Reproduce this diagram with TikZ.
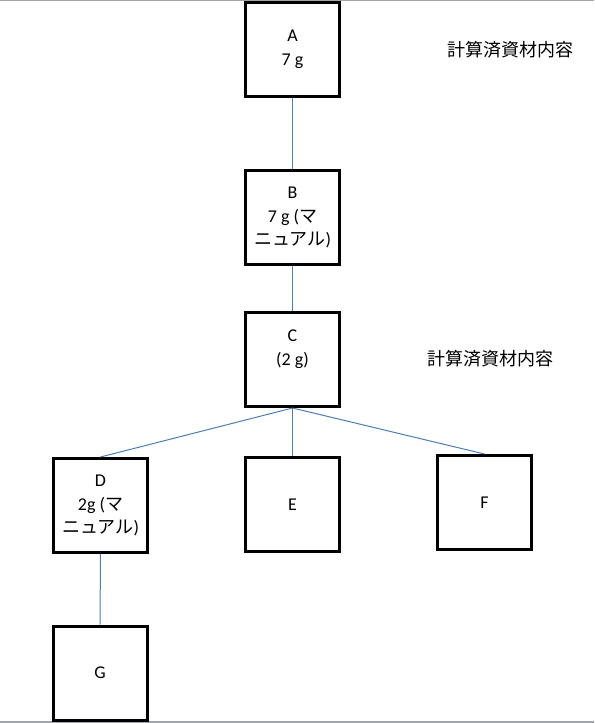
\documentclass[tikz,border=0pt]{standalone}
\usepackage{fontspec}
\setmainfont{Carlito}
\newfontfamily\jp{Noto Sans CJK JP}
\usetikzlibrary{positioning}
\definecolor{linkblue}{RGB}{74,126,187}
\definecolor{framegray}{RGB}{160,166,174}

\begin{document}
\begin{tikzpicture}[
      x=0.75pt,
      y=-0.75pt,
      box/.style={draw, line width=2.25pt, minimum width=70.5pt, minimum height=70.5pt,
        align=center, inner sep=1pt, font=\fontsize{13.5}{17.6}\selectfont},
      link/.style={draw=linkblue, line width=0.75pt},
      note/.style={anchor=west, inner sep=0pt, font=\jp\fontsize{13.5}{16}\selectfont}
    ]
    \useasboundingbox (0,0) rectangle (594,723);
    \draw[framegray, line width=1.2pt] (0,0.5) -- (594,0.5);
    \draw[framegray, line width=1.5pt] (0,722) -- (594,722);

    \node[box] (a) at (292.5,49.5) {A\\7 g};
    \node[box] (b) at (292.5,217.5) {B\\7 g ({\jp マ}\\{\jp ニュアル})};
    \node[box] (c) at (292.5,359.5) {C\\(2 g)\\\mbox{}};
    \node[box] (d) at (100.5,505.5) {D\\2g ({\jp マ}\\{\jp ニュアル})};
    \node[box] (e) at (292.5,504.5) {E};
    \node[box] (f) at (484.5,502.5) {F};
    \node[box] (g) at (100,673) {G};

    \node[note] (note1) at (447,50) {計算済資材内容};
    \node[note] (note2) at (427,359) {計算済資材内容};

    \draw[link] (a) -- (b);
    \draw[link] (b) -- (c);
    \draw[link] (c.south) -- (d.north);
    \draw[link] (c.south) -- (e.north);
    \draw[link] (c.south) -- (f.north);
    \draw[link] (d) -- (g);
  \end{tikzpicture}
\end{document}
